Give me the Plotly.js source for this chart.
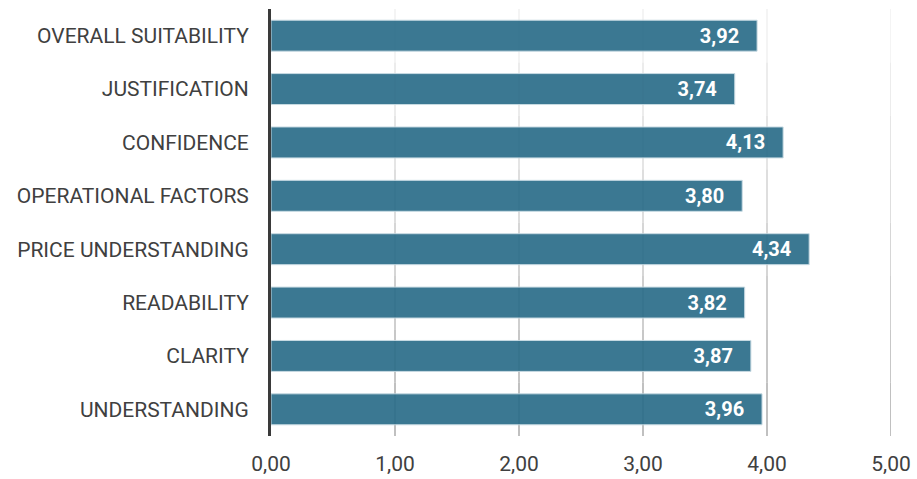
<!DOCTYPE html>
<html>
<head>
<meta charset="utf-8">
<script src="https://cdn.plot.ly/plotly-3.0.1.min.js"></script>
<style>html,body{margin:0;padding:0;background:#fff;}#chart{width:917px;height:479px;}</style>
</head>
<body>
<div id="chart"></div>
<script>
const categories = ["UNDERSTANDING","CLARITY","READABILITY","PRICE UNDERSTANDING","OPERATIONAL FACTORS","CONFIDENCE","JUSTIFICATION","OVERALL SUITABILITY"];
const scores = [3.96, 3.87, 3.82, 4.34, 3.80, 4.13, 3.74, 3.92];
const xTicks = [0, 1, 2, 3, 4, 5];

const trace = {
  type: 'bar',
  orientation: 'h',
  y: categories,
  x: scores,
  marker: {color: '#2b6d89', opacity: 0.92, line: {color: '#c4d8e1', width: 1}},
  texttemplate: '%{x:.2f}\u00a0\u00a0\u00a0',
  textposition: 'inside',
  insidetextanchor: 'end',
  textfont: {family: 'Roboto', size: 20, color: '#ffffff', weight: 'bold'},
  hoverinfo: 'skip',
  cliponaxis: false
};

// gridlines fading from light (top) to darker (bottom)
const gridShades = ['#f0f0f0','#e6e6e6','#dddddd','#d3d3d3','#c9c9c9','#bfbfbf','#b5b5b5','#ababab'];
const shapes = [];
xTicks.filter(v => v > 0).forEach(v => {
  gridShades.forEach((c, i) => {
    const n = gridShades.length;
    shapes.push({
      type: 'line', layer: 'below', xref: 'x', yref: 'paper',
      x0: v, x1: v, y0: 1 - (i + 1) / n, y1: 1 - i / n,
      line: {color: c, width: 1.5}
    });
  });
});

const layout = {
  width: 917, height: 479,
  margin: {l: 271, r: 26, t: 9, b: 43},
  paper_bgcolor: '#ffffff', plot_bgcolor: '#ffffff',
  separators: ',.',
  bargap: 0.42,
  showlegend: false,
  font: {family: 'Roboto', size: 21, color: '#404040'},
  shapes: shapes,
  xaxis: {
    range: [0, 5],
    tickvals: xTicks,
    tickformat: '.2f',
    showgrid: false,
    zeroline: false,
    showline: false,
    ticks: '',
    ticklabelstandoff: 13,
    tickfont: {family: 'Roboto', size: 21, color: '#404040'},
    fixedrange: true
  },
  yaxis: {
    type: 'category',
    categoryorder: 'array',
    categoryarray: categories,
    showline: true,
    linecolor: '#3a3a3a',
    linewidth: 3,
    showgrid: false,
    zeroline: false,
    ticks: '',
    ticklabelstandoff: 15,
    tickfont: {family: 'Roboto', size: 21, color: '#404040'},
    fixedrange: true
  }
};

Plotly.newPlot('chart', [trace], layout, {displayModeBar: false, staticPlot: true});
</script>
</body>
</html>
